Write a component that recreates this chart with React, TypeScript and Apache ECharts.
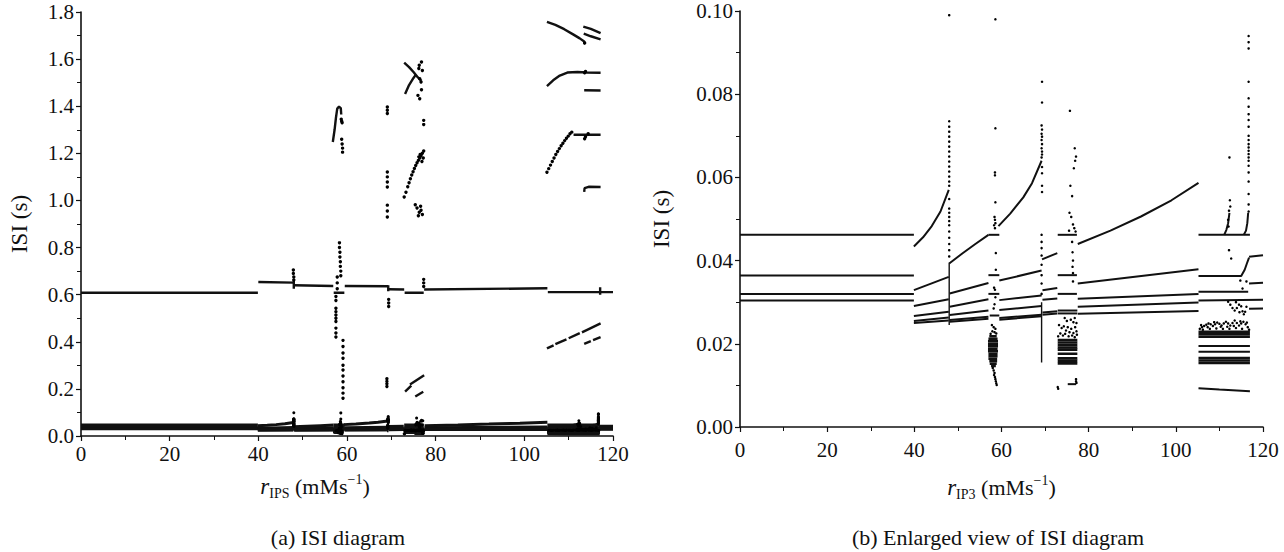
import { useEffect, useRef } from "react";
import * as echarts from "echarts";

type P = [number, number];

const INK = "#111111";
const FONT = "Liberation Serif, serif";

// ---------- tick settings ----------
const xMin = 0;
const xMax = 120;
const xStep = 20;
const yMaxA = 1.8;
const yStepA = 0.2;
const yMaxB = 0.1;
const yStepB = 0.02;

// ---------- low ISI structures (visible in both panels) ----------
const lowLines: P[][] = [
  // 0–40
  [[0, 0.0462], [39.9, 0.0462]],
  [[0, 0.0364], [39.9, 0.0364]],
  [[0, 0.032], [39.9, 0.032]],
  [[0, 0.0304], [39.9, 0.0304]],
  // 40–48
  [[39.9, 0.0434], [42, 0.0456], [44, 0.0483], [46, 0.0518], [47.9, 0.057]],
  [[39.9, 0.0329], [47.9, 0.0361]],
  [[39.9, 0.0291], [47.9, 0.0307]],
  [[39.9, 0.0267], [47.9, 0.0277]],
  [[39.9, 0.0255], [47.9, 0.0263]],
  [[39.9, 0.025], [47.9, 0.0256]],
  // 48–57
  [[48, 0.0393], [51, 0.0417], [54, 0.044], [57, 0.0462]],
  [[48.1, 0.0321], [57, 0.0346]],
  [[48.1, 0.0289], [57, 0.0307]],
  [[48.1, 0.0269], [57, 0.028]],
  [[48.1, 0.0257], [57, 0.0265]],
  [[48.1, 0.0253], [57, 0.026]],
  // 57–59.5
  [[57, 0.0462], [59.5, 0.0462]],
  [[57, 0.0365], [59.5, 0.0365]],
  [[57, 0.032], [59.5, 0.032]],
  [[57.3, 0.0268], [59.5, 0.0268]],
  // 59.5–69.3
  [[59.3, 0.0483], [62, 0.0513], [65, 0.0552], [67, 0.0586], [69.2, 0.064]],
  [[59.5, 0.0352], [69.2, 0.0376]],
  [[59.5, 0.0305], [69.2, 0.0316]],
  [[59.5, 0.0281], [69.2, 0.0291]],
  [[59.5, 0.0262], [69.2, 0.027]],
  [[59.5, 0.0258], [69.2, 0.0266]],
  // 69.3–73
  [[69.3, 0.0403], [72.8, 0.0418]],
  [[69.4, 0.0329], [72.8, 0.0334]],
  [[69.4, 0.0306], [72.8, 0.0309]],
  [[69.4, 0.0275], [72.8, 0.0278]],
  [[69.4, 0.027], [72.8, 0.0273]],
  // 73–77.5
  [[72.9, 0.0462], [77.3, 0.0462]],
  [[72.9, 0.0365], [77.3, 0.0365]],
  [[72.9, 0.032], [77.3, 0.032]],
  [[72.9, 0.028], [77.4, 0.028]],
  [[72.9, 0.0273], [77.4, 0.0273]],
  [[75.2, 0.0103], [77.1, 0.0103]],
  // 77.5–105.2
  [[77.5, 0.044], [85, 0.0472], [92, 0.0506], [99, 0.0545], [105.2, 0.0587]],
  [[77.5, 0.0345], [105.2, 0.0379]],
  [[77.5, 0.0308], [105.2, 0.032]],
  [[77.5, 0.0289], [105.2, 0.0299]],
  [[77.5, 0.0272], [105.2, 0.0279]],
  // 105.2–120
  [[105.2, 0.0462], [117, 0.0462]],
  [[111.1, 0.0462], [111.6, 0.0474], [112.0, 0.049], [112.3, 0.0515]],
  [[115.6, 0.0462], [116.1, 0.0472], [116.4, 0.049], [116.6, 0.0515]],
  [[105.2, 0.0363], [115, 0.0363], [115.8, 0.0378], [116.3, 0.0393], [116.8, 0.0407]],
  [[116.8, 0.0409], [120, 0.0413]],
  [[105.2, 0.0325], [116.6, 0.0325]],
  [[116.8, 0.0345], [120, 0.0347]],
  [[105.2, 0.0304], [120, 0.0306]],
  [[116.8, 0.0284], [120, 0.0285]],
  [[105.2, 0.0195], [117, 0.0195]],
  [[105.2, 0.0181], [117, 0.0181]],
  [[105.2, 0.0093], [110, 0.009], [117, 0.0086]],
];

// dense clouds drawn as stacked strokes
const lowBlocks: P[][] = [
  // 57–59 blob
  [[57.2, 0.0218], [58.9, 0.0218]],
  [[57.0, 0.0212], [59.1, 0.0212]],
  [[56.9, 0.0206], [59.2, 0.0206]],
  [[56.9, 0.02], [59.2, 0.02]],
  [[56.9, 0.0194], [59.2, 0.0194]],
  [[56.9, 0.0188], [59.1, 0.0188]],
  [[56.9, 0.0182], [59.2, 0.0182]],
  [[57.0, 0.0176], [59.1, 0.0176]],
  [[57.0, 0.017], [59.1, 0.017]],
  [[57.0, 0.0164], [59.0, 0.0164]],
  [[57.2, 0.0158], [59.0, 0.0158]],
  [[57.3, 0.0152], [58.9, 0.0152]],
  [[57.6, 0.0147], [58.7, 0.0147]],
  // 73–77.5 block
  [[72.9, 0.0209], [77.4, 0.0209]],
  [[72.9, 0.0203], [77.4, 0.0203]],
  [[72.9, 0.0197], [77.4, 0.0197]],
  [[72.9, 0.0191], [77.4, 0.0191]],
  [[72.9, 0.0186], [77.4, 0.0186]],
  [[72.9, 0.0176], [77.4, 0.0176]],
  [[72.9, 0.0165], [77.4, 0.0165]],
  [[72.9, 0.0159], [77.4, 0.0159]],
  [[72.9, 0.0153], [77.4, 0.0153]],
  // 105–117 bands
  [[105.2, 0.0229], [117, 0.0229]],
  [[105.2, 0.0223], [117, 0.0223]],
  [[105.2, 0.0217], [117, 0.0217]],
  [[105.2, 0.0166], [117, 0.0166]],
  [[105.2, 0.016], [117, 0.016]],
  [[105.2, 0.0154], [117, 0.0154]],
];

const lowColumns: P[][] = [
  [[48, 0.0245], [48, 0.0395]],
  [[69.2, 0.0155], [69.2, 0.03]],
];

const lowDots: P[] = [
  // r ≈ 48
  [48, 0.099], [48, 0.0735], [48, 0.0722], [48, 0.071], [48, 0.0698], [48, 0.0686], [48, 0.0674],
  [48, 0.0662], [48, 0.065], [48, 0.0638], [48, 0.0626], [48, 0.0614], [48, 0.0602], [48, 0.059],
  [48, 0.058], [48, 0.0548], [48, 0.0525], [48, 0.0515], [48, 0.0505], [48, 0.0495], [48, 0.0485],
  [48, 0.047], [48, 0.0455], [48, 0.044], [48, 0.0425], [48, 0.041],
  // r ≈ 58.5
  [58.6, 0.098], [58.6, 0.0718], [58.5, 0.0612], [58.5, 0.0605], [58.6, 0.054], [58.4, 0.0505],
  [58.5, 0.0498], [58.6, 0.049], [58.3, 0.0485], [58.5, 0.0478], [58.7, 0.0418], [58.7, 0.0378],
  [58.3, 0.0335], [58.5, 0.033], [58.6, 0.0312], [58.4, 0.0295], [58.2, 0.0285],
  [57.8, 0.0245], [58.2, 0.024], [58.6, 0.0236], [57.9, 0.023], [58.4, 0.0228], [58.8, 0.0225], [57.5, 0.0224],
  [58.0, 0.0142], [58.2, 0.0136], [58.4, 0.013], [58.3, 0.0125], [58.5, 0.012], [58.6, 0.0115],
  [58.7, 0.011], [58.8, 0.0105], [58.9, 0.0101],
  // r ≈ 69.3
  [69.3, 0.083], [69.3, 0.078], [69.2, 0.0725], [69.3, 0.0715], [69.2, 0.0705], [69.3, 0.0698],
  [69.2, 0.069], [69.3, 0.068], [69.2, 0.067], [69.3, 0.0662], [69.3, 0.0655], [69.2, 0.0648],
  [69.3, 0.0625], [69.3, 0.061], [69.3, 0.058], [69.3, 0.0565], [69.2, 0.0462], [69.2, 0.0445],
  [69.2, 0.043], [69.2, 0.0412], [69.2, 0.039], [69.2, 0.0365], [69.2, 0.0345], [69.2, 0.032],
  // r ≈ 75–77
  [75.7, 0.076], [76.8, 0.067], [77.1, 0.065], [76.9, 0.064], [76.6, 0.0622], [75.8, 0.058],
  [76.2, 0.0555], [75.6, 0.0515], [76.0, 0.0505], [76.4, 0.0487], [76.7, 0.0478], [75.5, 0.0472],
  [77.0, 0.047], [76.2, 0.0445], [76.3, 0.042], [76.4, 0.04], [76.3, 0.0385], [76.4, 0.037], [76.4, 0.035],
  [73.2, 0.0245], [73.8, 0.0238], [74.3, 0.0242], [74.8, 0.0232], [75.2, 0.024], [75.6, 0.0228],
  [76.0, 0.0236], [76.5, 0.0226], [76.9, 0.024], [77.2, 0.023], [73.5, 0.0225], [74.1, 0.022],
  [74.6, 0.0224], [75.4, 0.0218], [76.2, 0.022], [76.8, 0.0216], [77.3, 0.0222], [73.0, 0.0218],
  [75.0, 0.0255], [76.5, 0.0252], [74.5, 0.0262], [75.9, 0.0258], [76.8, 0.0262], [77.2, 0.025],
  [77.1, 0.0115], [77.1, 0.011], [72.9, 0.0096], [73.0, 0.0092], [77.2, 0.0106],
  // r ≈ 112
  [112.3, 0.0648], [112.4, 0.0545], [112.5, 0.053], [112.2, 0.052], [112.0, 0.0498], [112.1, 0.0482],
  [112.2, 0.0425], [112.7, 0.0405],
  // r ≈ 116.7
  [116.7, 0.094], [116.7, 0.0925], [116.7, 0.091], [116.7, 0.083], [116.7, 0.079], [116.7, 0.077],
  [116.7, 0.0752], [116.7, 0.0738], [116.7, 0.0722], [116.7, 0.07], [116.7, 0.069], [116.7, 0.068],
  [116.7, 0.0672], [116.7, 0.0664], [116.7, 0.0656], [116.7, 0.0648], [116.7, 0.064], [116.7, 0.0628],
  [116.7, 0.0612], [116.7, 0.059], [116.7, 0.056], [116.7, 0.0535], [116.7, 0.0518],
  [114.8, 0.0352], [115.3, 0.0333], [116.2, 0.035],
  // V-shaped dots 112–117
  [112.0, 0.0301], [112.5, 0.0294], [113.0, 0.0286], [113.5, 0.028], [114.0, 0.0286], [114.5, 0.0294],
  [113.8, 0.03], [115.0, 0.029], [115.3, 0.0278], [115.6, 0.0271], [115.9, 0.0277], [116.2, 0.0289],
  [114.6, 0.0276],
  // arcs above the 105–117 band
  [105.5, 0.0236], [106.0, 0.024], [106.5, 0.0243], [107.0, 0.0246], [107.5, 0.0249], [108.0, 0.0247],
  [108.5, 0.0243], [109.0, 0.0247], [109.5, 0.0251], [110.0, 0.0248], [110.5, 0.0244], [111.0, 0.0249],
  [111.5, 0.0253], [112.0, 0.0249], [112.5, 0.0244], [113.0, 0.025], [113.5, 0.0256], [114.0, 0.025],
  [114.5, 0.0244], [115.0, 0.0249], [115.5, 0.0253], [116.0, 0.0247], [116.5, 0.024], [106.2, 0.0234],
  [107.8, 0.0236], [109.3, 0.0237], [110.8, 0.0236], [112.3, 0.0236], [113.8, 0.0238], [115.2, 0.0236],
  [116.8, 0.0234], [105.8, 0.0245], [107.3, 0.024], [108.8, 0.0252], [110.3, 0.0241], [111.8, 0.0241],
  [113.3, 0.0243], [114.8, 0.0254], [116.3, 0.0251],
];

// ---------- high ISI structures (panel a only) ----------
const highLines: P[][] = [
  [[0, 0.608], [39.9, 0.608]],
  [[40, 0.654], [47.9, 0.651]],
  [[48, 0.64], [56.9, 0.637]],
  [[57, 0.608], [59.4, 0.608]],
  [[59.5, 0.637], [69.3, 0.636]],
  [[69.4, 0.623], [72.9, 0.622]],
  [[73, 0.608], [77.3, 0.608]],
  [[77.4, 0.622], [105.2, 0.627]],
  [[105.3, 0.611], [120, 0.611]],
  [[117.1, 0.6], [117.1, 0.632]],
  [[69.3, 0.615], [69.3, 0.64]],
  [[48, 0.625], [48, 0.66]],
  [[73.1, 0.188], [74.5, 0.214]],
  [[74.2, 0.219], [77.4, 0.258]],
  [[75.4, 0.168], [77.2, 0.188]],
  [[105.1, 0.372], [106.6, 0.385]],
  [[107, 0.39], [109.5, 0.41]],
  [[110, 0.415], [112.5, 0.437]],
  [[113, 0.44], [117.2, 0.478]],
  [[113.5, 0.391], [115, 0.403]],
  [[115.5, 0.407], [117.2, 0.42]],
  [[105.1, 1.758], [107, 1.745], [109, 1.727], [111, 1.705], [112.5, 1.688], [113.5, 1.675], [113.7, 1.664]],
  [[113.3, 1.738], [115, 1.728], [117.2, 1.71]],
  [[113.4, 1.708], [115, 1.697], [117.2, 1.684]],
  [[105.1, 1.485], [106.5, 1.51], [108, 1.53], [109.7, 1.543], [112, 1.545], [114, 1.543], [117.2, 1.542]],
  [[113.5, 1.468], [117.2, 1.467]],
  [[111.1, 1.279], [117.2, 1.279]],
  [[113.5, 1.036], [113.6, 1.052], [114.5, 1.058], [117.2, 1.057]],
  [[56.8, 1.248], [57.2, 1.3], [57.5, 1.35], [57.8, 1.39], [58.2, 1.398], [58.6, 1.392], [58.7, 1.365]],
  [[72.9, 1.585], [74, 1.566], [75, 1.545], [76, 1.522], [76.8, 1.508]],
  [[73.1, 1.452], [74, 1.49], [75, 1.52], [75.5, 1.533]],
];

const highDots: P[] = [
  [105.1, 1.12], [105.5, 1.135], [105.9, 1.15], [106.3, 1.165], [106.7, 1.18], [107.1, 1.195],
  [107.5, 1.208], [107.9, 1.22], [108.3, 1.232], [108.7, 1.243], [109.1, 1.254], [109.5, 1.264],
  [109.9, 1.273], [110.3, 1.283], [110.7, 1.29], [113.6, 1.262], [113.8, 1.27], [114.4, 1.283],
  [113.6, 1.542], [113.8, 1.548], [113.6, 1.668],
  [58.7, 1.345], [58.8, 1.336], [58.9, 1.33], [58.8, 1.26], [58.9, 1.24], [59.0, 1.222], [59.0, 1.205],
  [69.1, 1.397], [69.1, 1.383], [69.1, 1.369], [69.1, 1.121], [69.1, 1.1], [69.1, 1.078], [69.1, 1.057],
  [69.1, 0.98], [69.1, 0.955], [69.1, 0.93],
  [72.9, 1.015], [73.3, 1.035], [73.7, 1.058], [74.0, 1.075], [74.3, 1.092], [74.6, 1.108], [74.9, 1.122],
  [75.2, 1.136], [75.5, 1.148], [75.8, 1.16], [76.1, 1.17], [76.4, 1.18], [76.7, 1.19], [77.0, 1.2],
  [77.3, 1.21], [76.2, 1.185], [76.5, 1.195], [76.9, 1.165], [77.2, 1.18],
  [75.4, 0.982], [75.8, 0.968], [76.3, 0.95], [76.7, 0.958], [77.0, 0.94], [76.1, 0.935], [76.6, 0.975],
  [77.3, 1.34], [77.3, 1.322],
  [76.3, 1.574], [76.8, 1.588], [77.0, 1.552], [76.4, 1.517], [76.7, 1.503], [76.0, 1.446], [76.4, 1.432],
  [76.8, 1.47], [76.2, 1.56],
  [47.9, 0.705], [47.9, 0.69], [48, 0.675], [48, 0.662],
  [57.5, 0.592], [57.5, 0.575], [57.5, 0.542], [57.5, 0.528], [57.5, 0.514], [57.5, 0.5], [57.5, 0.486],
  [57.5, 0.458], [57.5, 0.437], [57.5, 0.42], [57.8, 0.675], [57.8, 0.65], [57.8, 0.625],
  [58.3, 0.82], [58.3, 0.8], [58.4, 0.78], [58.4, 0.76], [58.5, 0.74], [58.5, 0.72], [58.6, 0.7], [58.6, 0.68],
  [59.1, 0.406], [59.1, 0.38], [59.1, 0.352], [59.1, 0.33], [59.1, 0.3], [59.1, 0.28], [59.1, 0.255],
  [59.1, 0.23], [59.1, 0.205], [59.1, 0.182], [59.1, 0.16],
  [69.4, 0.58], [69.4, 0.565], [69.4, 0.55], [69.0, 0.243], [69.0, 0.232], [69.0, 0.222], [69.0, 0.21],
  [77.3, 0.665], [77.3, 0.65], [77.3, 0.635],
];

// ---------- option building ----------
function lineSeries(segs: P[][], idx: number, width: number) {
  return segs.map((seg) => ({
    type: "line",
    xAxisIndex: idx,
    yAxisIndex: idx,
    data: seg,
    symbol: "none",
    showSymbol: false,
    lineStyle: { color: INK, width },
    silent: true,
    clip: true,
    z: 2,
  }));
}

function dotSeries(dots: P[], idx: number, size: number) {
  return {
    type: "scatter",
    xAxisIndex: idx,
    yAxisIndex: idx,
    data: dots,
    symbol: "circle",
    symbolSize: size,
    itemStyle: { color: "#000", opacity: 1 },
    silent: true,
    clip: true,
    z: 3,
  };
}

const richName = {
  it: { fontFamily: FONT, fontSize: 23, fontStyle: "italic", color: INK, lineHeight: 28, verticalAlign: "middle" },
  sub: { fontFamily: FONT, fontSize: 14, color: INK, lineHeight: 13, verticalAlign: "bottom" },
  sup: { fontFamily: FONT, fontSize: 14, color: INK, lineHeight: 14, verticalAlign: "top" },
  n: { fontFamily: FONT, fontSize: 22, color: INK, lineHeight: 28, verticalAlign: "middle" },
};

function xAxisCfg(idx: number, sub: string, gap: number, margin: number, shift: number) {
  return {
    type: "value",
    gridIndex: idx,
    min: xMin,
    max: xMax,
    interval: xStep,
    axisLine: { lineStyle: { color: INK, width: 1.6 } },
    axisTick: { length: 5, lineStyle: { color: INK, width: 1.2 } },
    minorTick: { show: true, splitNumber: 2, length: 4, lineStyle: { color: INK, width: 1 } },
    splitLine: { show: false },
    axisLabel: { color: INK, fontFamily: FONT, fontSize: 21, margin },
    name: `{it|r}{sub|${sub}} {n|(mMs}{sup|−1}{n|)}`,
    nameLocation: "middle",
    nameGap: gap,
    nameTextStyle: {
      fontFamily: FONT,
      fontSize: 22,
      color: INK,
      rich: richName,
      padding: shift > 0 ? [0, shift, 0, 0] : [0, 0, 0, -shift],
    },
  };
}

function yAxisCfg(idx: number, max: number, step: number, digits: number, gap: number) {
  return {
    type: "value",
    gridIndex: idx,
    min: 0,
    max,
    interval: step,
    axisLine: { lineStyle: { color: INK, width: 1.6 } },
    axisTick: { length: 5, lineStyle: { color: INK, width: 1.2 } },
    minorTick: { show: true, splitNumber: 2, length: 4, lineStyle: { color: INK, width: 1 } },
    splitLine: { show: false },
    axisLabel: {
      color: INK,
      fontFamily: FONT,
      fontSize: 21,
      margin: 7,
      formatter: (v: number) => v.toFixed(digits),
    },
    name: "ISI (s)",
    nameLocation: "middle",
    nameRotate: 90,
    nameGap: gap,
    nameTextStyle: { color: INK, fontFamily: FONT, fontSize: 23 },
  };
}

const option = {
  animation: false,
  backgroundColor: "#ffffff",
  textStyle: { fontFamily: FONT },
  grid: [
    { left: 81, top: 12, width: 532, height: 424 },
    { left: 740, top: 11, width: 523, height: 416 },
  ],
  xAxis: [xAxisCfg(0, "IPS", 36, 7, 64), xAxisCfg(1, "IP3", 46, 12, 0)],
  yAxis: [yAxisCfg(0, yMaxA, yStepA, 1, 50), yAxisCfg(1, yMaxB, yStepB, 2, 67)],
  graphic: [
    {
      type: "text",
      x: 338,
      y: 537,
      style: { text: "(a) ISI diagram", fill: INK, fontFamily: FONT, fontSize: 22, align: "center", verticalAlign: "middle" },
    },
    {
      type: "text",
      x: 998,
      y: 537,
      style: {
        text: "(b) Enlarged view of ISI diagram",
        fill: INK,
        fontFamily: FONT,
        fontSize: 22,
        align: "center",
        verticalAlign: "middle",
      },
    },
  ],
  series: [
    ...lineSeries(highLines, 0, 2.4),
    ...lineSeries(lowLines, 0, 3),
    ...lineSeries(lowBlocks, 0, 3),
    ...lineSeries(lowColumns, 0, 1.5),
    dotSeries(highDots, 0, 3.4),
    dotSeries(lowDots, 0, 3),
    ...lineSeries(lowLines, 1, 2),
    ...lineSeries(lowBlocks, 1, 2.6),
    ...lineSeries(lowColumns, 1, 1.4),
    dotSeries(lowDots, 1, 2.5),
  ],
};

export default function App() {
  const ref = useRef<HTMLDivElement>(null);
  useEffect(() => {
    if (!ref.current) return;
    const chart = echarts.init(ref.current, null, { renderer: "svg" });
    chart.setOption(option as any);
    return () => chart.dispose();
  }, []);
  return (
    <div
      ref={ref}
      style={{ position: "fixed", left: 0, top: 0, width: 1284, height: 552, background: "#fff" }}
    />
  );
}
